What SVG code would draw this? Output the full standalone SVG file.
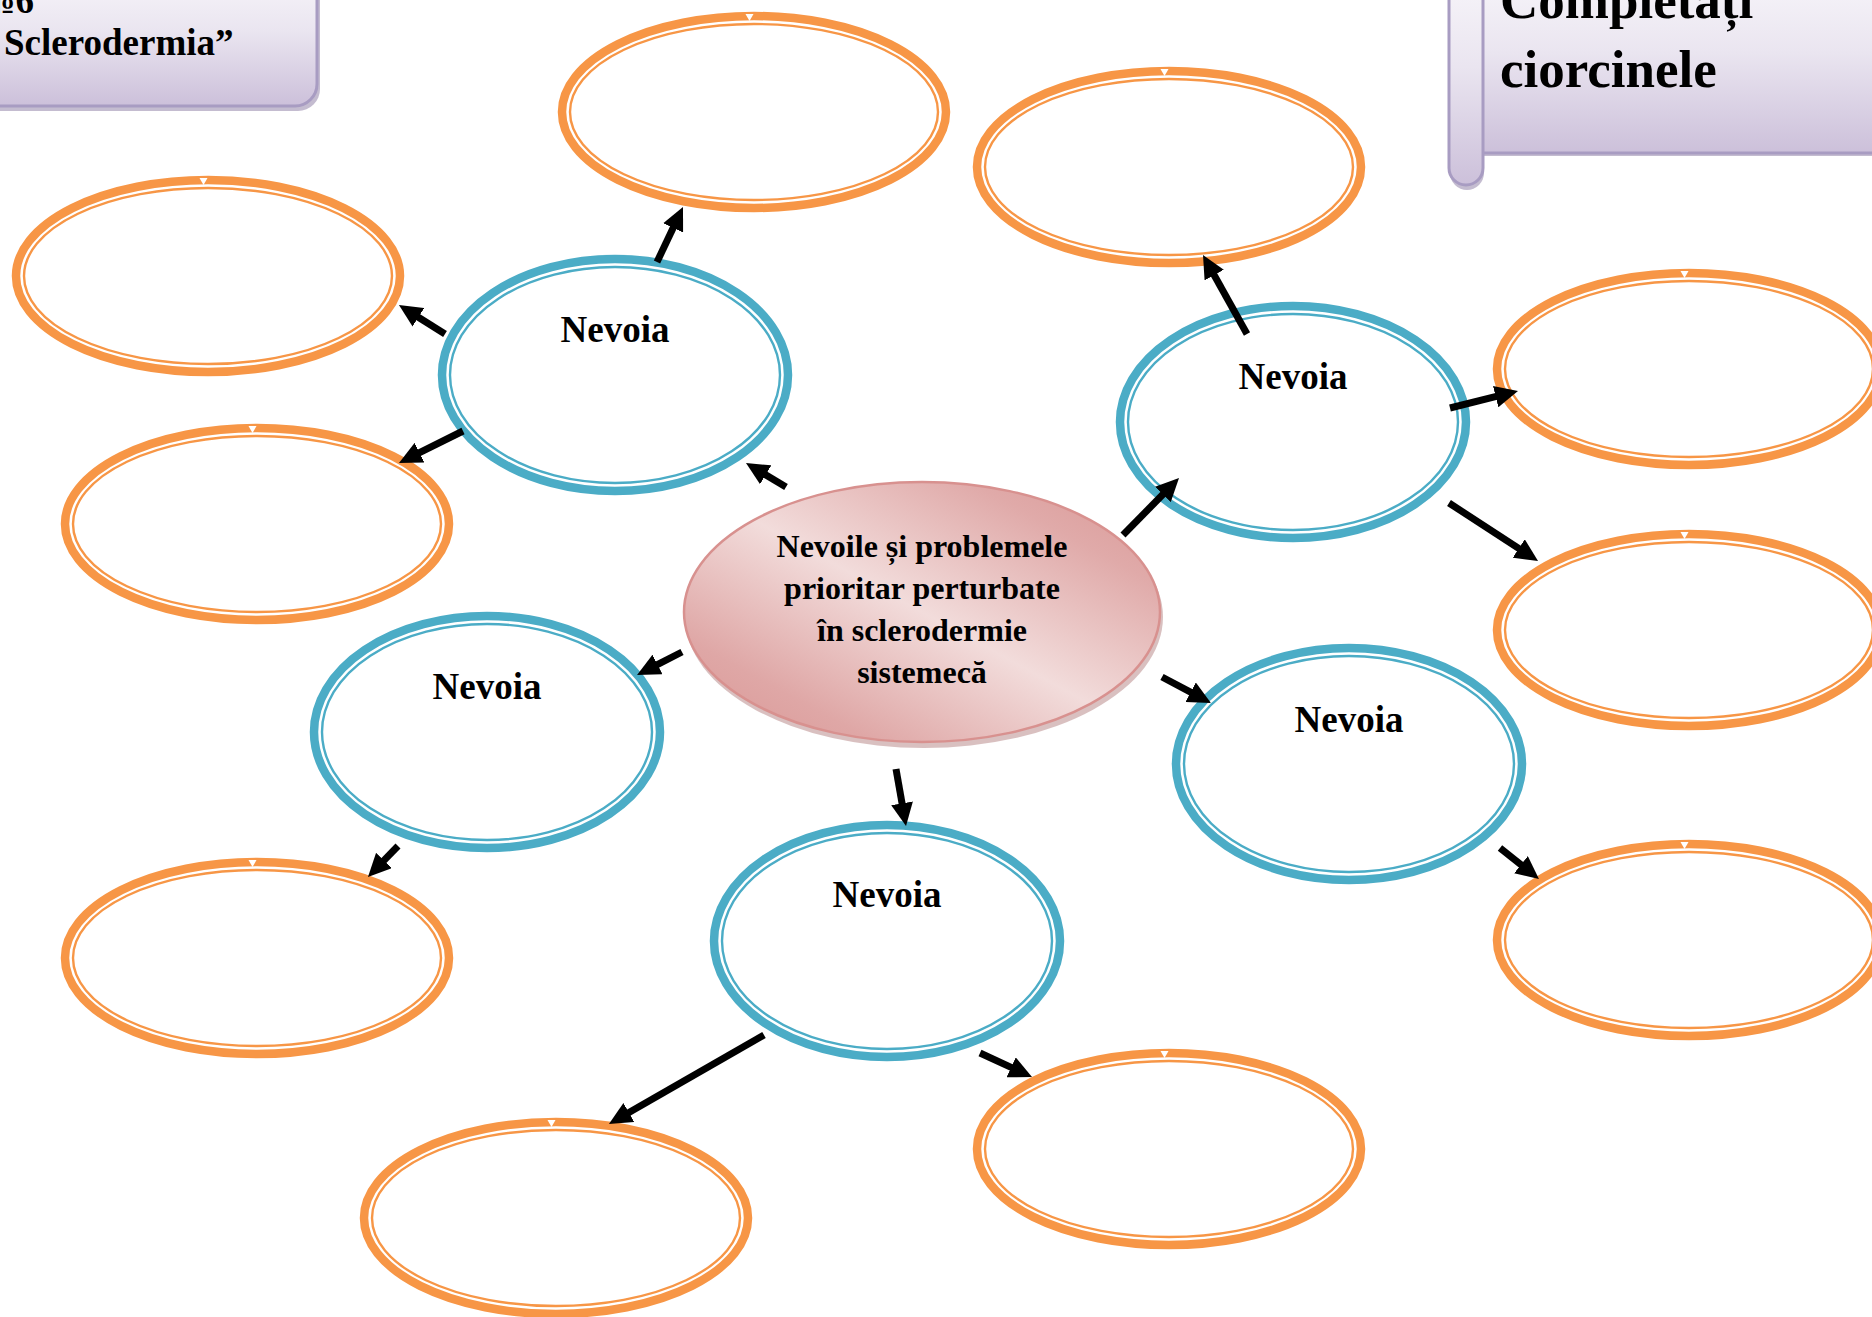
<svg xmlns="http://www.w3.org/2000/svg" width="1872" height="1317" viewBox="0 0 1872 1317">
  <defs>
    <style>
      .t { font-family: "Liberation Serif", "Times New Roman", serif; font-weight: bold; fill: #000; }
      .nev { font-size: 37px; text-anchor: middle; }
      .ctr { font-size: 32px; text-anchor: middle; }
      .ob { fill: none; stroke: #F79646; stroke-width: 8.5; }
      .oi { fill: none; stroke: #F79646; stroke-width: 2.4; }
      .bb { fill: #fff; stroke: #4BACC6; stroke-width: 8.5; }
      .bi { fill: none; stroke: #4BACC6; stroke-width: 2.4; }
      .notch { fill: #fff; }
      .arr { fill: none; stroke: #000; stroke-width: 7; marker-end: url(#ah); }
      .box { fill: url(#lav); stroke: #A89CC2; stroke-width: 3; }
    </style>
    <marker id="ah" markerUnits="userSpaceOnUse" markerWidth="23" markerHeight="22" viewBox="0 0 23 22" refX="9" refY="11" orient="auto">
      <path d="M0,0 L23,11 L0,22 z" fill="#000"/>
    </marker>
    <linearGradient id="lav" x1="0" y1="0" x2="0" y2="1">
      <stop offset="0" stop-color="#F8F6FA"/>
      <stop offset="0.45" stop-color="#EAE5F0"/>
      <stop offset="1" stop-color="#CCC0DA"/>
    </linearGradient>
    <linearGradient id="pink" x1="1" y1="0" x2="0" y2="1">
      <stop offset="0" stop-color="#D99694"/>
      <stop offset="0.2" stop-color="#E0AAA9"/>
      <stop offset="0.5" stop-color="#F2DCDB"/>
      <stop offset="0.8" stop-color="#DFA7A6"/>
      <stop offset="1" stop-color="#D99694"/>
    </linearGradient>
  </defs>

  <!-- title boxes -->
  <g id="title-left">
    <rect x="-30" y="-30" width="350" height="141" rx="22" fill="#9C90B0" opacity="0.6"/>
    <rect class="box" x="-30" y="-30" width="347" height="136" rx="22"/>
    <text class="t" x="34" y="13" font-size="37" text-anchor="end">№6</text>
    <text class="t" x="4" y="55" font-size="37">Sclerodermia”</text>
  </g>

  <g id="title-right">
    <rect x="1482" y="-30" width="420" height="186" fill="#9C90B0" opacity="0.6"/>
    <rect class="box" x="1482" y="-30" width="420" height="183"/>
    <path d="M1449,-30 L1449,170 A17,17 0 0 0 1483,170 L1483,-30" fill="#9C90B0" opacity="0.6" transform="translate(1,3)"/>
    <path class="box" d="M1449,-30 L1449,168 A17,17 0 0 0 1483,168 L1483,-30"/>
    <text class="t" x="1500" y="18" font-size="53">Completați</text>
    <text class="t" x="1500" y="87" font-size="53">ciorcinele</text>
  </g>

  <!-- orange (empty) nodes -->
  <g id="o1"><ellipse class="ob" cx="754" cy="112" rx="192" ry="96"/><ellipse class="oi" cx="754" cy="112" rx="184" ry="88"/><polygon class="notch" points="745.5,14 753.5,14 749.5,21"/></g>
  <g id="o2"><ellipse class="ob" cx="208" cy="276" rx="192" ry="96"/><ellipse class="oi" cx="208" cy="276" rx="184" ry="88"/><polygon class="notch" points="199.5,178 207.5,178 203.5,185"/></g>
  <g id="o3"><ellipse class="ob" cx="257" cy="524" rx="192" ry="96"/><ellipse class="oi" cx="257" cy="524" rx="184" ry="88"/><polygon class="notch" points="248.5,426 256.5,426 252.5,433"/></g>
  <g id="o4"><ellipse class="ob" cx="257" cy="958" rx="192" ry="96"/><ellipse class="oi" cx="257" cy="958" rx="184" ry="88"/><polygon class="notch" points="248.5,860 256.5,860 252.5,867"/></g>
  <g id="o5"><ellipse class="ob" cx="556" cy="1218" rx="192" ry="96"/><ellipse class="oi" cx="556" cy="1218" rx="184" ry="88"/><polygon class="notch" points="547.5,1120 555.5,1120 551.5,1127"/></g>
  <g id="o6"><ellipse class="ob" cx="1169" cy="1149" rx="192" ry="96"/><ellipse class="oi" cx="1169" cy="1149" rx="184" ry="88"/><polygon class="notch" points="1160.5,1051 1168.5,1051 1164.5,1058"/></g>
  <g id="o7"><ellipse class="ob" cx="1169" cy="167" rx="192" ry="96"/><ellipse class="oi" cx="1169" cy="167" rx="184" ry="88"/><polygon class="notch" points="1160.5,69 1168.5,69 1164.5,76"/></g>
  <g id="o8"><ellipse class="ob" cx="1689" cy="369" rx="192" ry="96"/><ellipse class="oi" cx="1689" cy="369" rx="184" ry="88"/><polygon class="notch" points="1680.5,271 1688.5,271 1684.5,278"/></g>
  <g id="o9"><ellipse class="ob" cx="1689" cy="630" rx="192" ry="96"/><ellipse class="oi" cx="1689" cy="630" rx="184" ry="88"/><polygon class="notch" points="1680.5,532 1688.5,532 1684.5,539"/></g>
  <g id="o10"><ellipse class="ob" cx="1689" cy="940" rx="192" ry="96"/><ellipse class="oi" cx="1689" cy="940" rx="184" ry="88"/><polygon class="notch" points="1680.5,842 1688.5,842 1684.5,849"/></g>

  <!-- blue "Nevoia" nodes -->
  <g id="nA"><ellipse class="bb" cx="615" cy="375" rx="173" ry="116"/><ellipse class="bi" cx="615" cy="375" rx="165" ry="108"/><text class="t nev" x="615" y="342">Nevoia</text></g>
  <g id="nB"><ellipse class="bb" cx="1293" cy="422" rx="173" ry="116"/><ellipse class="bi" cx="1293" cy="422" rx="165" ry="108"/><text class="t nev" x="1293" y="389">Nevoia</text></g>
  <g id="nC"><ellipse class="bb" cx="487" cy="732" rx="173" ry="116"/><ellipse class="bi" cx="487" cy="732" rx="165" ry="108"/><text class="t nev" x="487" y="699">Nevoia</text></g>
  <g id="nD"><ellipse class="bb" cx="887" cy="941" rx="173" ry="116"/><ellipse class="bi" cx="887" cy="941" rx="165" ry="108"/><text class="t nev" x="887" y="907">Nevoia</text></g>
  <g id="nE"><ellipse class="bb" cx="1349" cy="764" rx="173" ry="116"/><ellipse class="bi" cx="1349" cy="764" rx="165" ry="108"/><text class="t nev" x="1349" y="732">Nevoia</text></g>

  <!-- central node -->
  <g id="center">
    <ellipse cx="924" cy="617" rx="239" ry="131" fill="#B98C8C" opacity="0.55"/>
    <ellipse cx="922" cy="612" rx="238" ry="130" fill="url(#pink)" stroke="#D8918F" stroke-width="2.5"/>
    <text class="t ctr" x="922" y="557">Nevoile și problemele</text>
    <text class="t ctr" x="922" y="599">prioritar perturbate</text>
    <text class="t ctr" x="922" y="641">în sclerodermie</text>
    <text class="t ctr" x="922" y="683">sistemecă</text>
  </g>

  <!-- connectors -->
  <g id="connectors">
    <line class="arr" x1="657" y1="262" x2="677.0" y2="219.7"/>
    <line class="arr" x1="445" y1="334" x2="410.8" y2="312.5"/>
    <line class="arr" x1="463" y1="431" x2="411.5" y2="456.7"/>
    <line class="arr" x1="786" y1="487" x2="758.0" y2="470.2"/>
    <line class="arr" x1="1123" y1="535" x2="1169.2" y2="488.0"/>
    <line class="arr" x1="1247" y1="334" x2="1209.8" y2="267.2"/>
    <line class="arr" x1="1450" y1="408" x2="1504.4" y2="394.4"/>
    <line class="arr" x1="1449" y1="503" x2="1526.3" y2="553.4"/>
    <line class="arr" x1="682" y1="652" x2="649.5" y2="668.6"/>
    <line class="arr" x1="1162" y1="677" x2="1198.6" y2="696.4"/>
    <line class="arr" x1="896" y1="769" x2="903.6" y2="812.2"/>
    <line class="arr" x1="398" y1="846" x2="377.7" y2="866.9"/>
    <line class="arr" x1="764" y1="1035" x2="621.1" y2="1117.0"/>
    <line class="arr" x1="980" y1="1053" x2="1019.3" y2="1071.1"/>
    <line class="arr" x1="1500" y1="848" x2="1528.0" y2="870.3"/>
  </g>
</svg>
